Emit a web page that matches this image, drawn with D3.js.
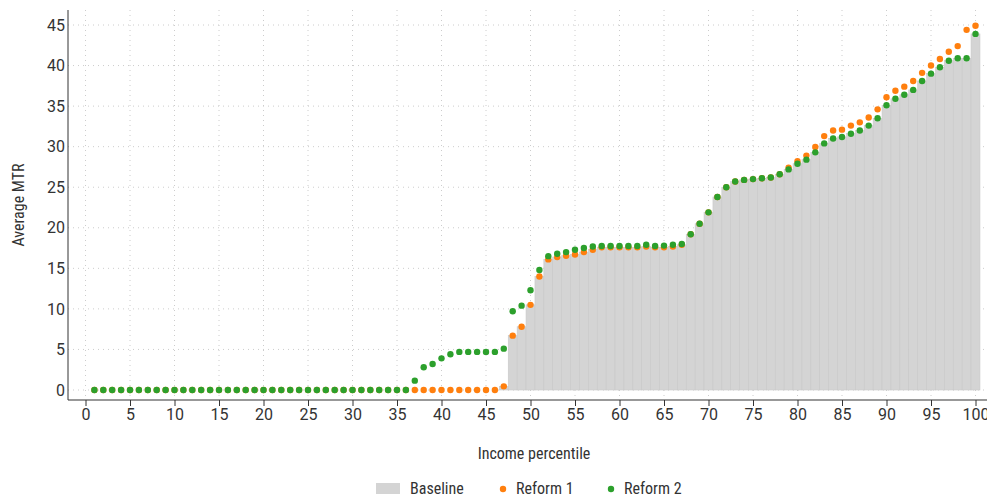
<!DOCTYPE html>
<html><head><meta charset="utf-8">
<script src="https://cdn.jsdelivr.net/npm/d3@7"></script>
<style>
body{margin:0;background:#fff}
text{font-family:"Liberation Sans Narrow","Roboto Condensed",Roboto,sans-serif;font-size:16px;fill:#333}
.grid line{stroke:#ccc;stroke-dasharray:1,4}
</style></head><body>
<svg id="chart" width="987" height="498"></svg>
<script>
// percentiles 1..100
var percentiles = d3.range(1, 101);

var reform1Tail = [0,0,0,0,0,0,0,0,0,0,0.45, // 37-47
  6.7,7.8,10.5,14.0,16.1,16.4,16.55,16.7,17.0,17.3, // 48-57
  17.6,17.6,17.6,17.6,17.6,17.7,17.6,17.6,17.7,17.9, // 58-67
  19.2,20.5,21.9,23.8,25.0,25.7,25.9,26.0,26.1,26.2,26.6, // 68-78
  27.4,28.2,28.9,29.95,31.3,32.0,32.1,32.6,33.0,33.6,34.6, // 79-89
  36.1,36.9,37.4,38.1,39.1,40.0,40.8,41.7,42.4,44.4,44.9]; // 90-100
var reform2Tail = [1.15,2.8,3.2,3.9,4.4,4.7,4.7,4.7,4.7,4.7,5.1,
  9.7,10.4,12.3,14.8,16.5,16.8,17.0,17.3,17.5,17.7,
  17.75,17.75,17.75,17.75,17.75,17.9,17.75,17.8,17.9,18.0,
  19.2,20.5,21.9,23.8,25.0,25.7,25.9,26.0,26.1,26.2,26.6,
  27.2,27.9,28.4,29.3,30.4,31.0,31.2,31.6,32.0,32.6,33.5,
  35.1,35.9,36.4,37.0,38.1,39.0,39.8,40.6,40.9,40.9,43.9];
var baselineTail = [0,0,0,0,0,0,0,0,0,0,0.45,
  6.7,7.8,10.5,14.0,16.1,16.4,16.55,16.7,17.0,17.3,
  17.6,17.6,17.6,17.6,17.6,17.7,17.6,17.6,17.7,17.9,
  19.2,20.5,21.9,23.8,25.0,25.7,25.9,26.0,26.1,26.2,26.6,
  27.2,27.9,28.4,29.3,30.4,31.0,31.2,31.6,32.0,32.6,33.5,
  35.1,35.9,36.4,37.0,38.1,39.0,39.8,40.6,40.9,40.9,43.9];
var zeros = d3.range(36).map(function(){ return 0; });
var reform1 = zeros.concat(reform1Tail);
var reform2 = zeros.concat(reform2Tail);
var baseline = zeros.concat(baselineTail);

var xTicks = d3.range(0, 101, 5);
var yTicks = d3.range(0, 46, 5);

var svg = d3.select('#chart');
var x = d3.scaleLinear().domain([0, 100]).range([85.5, 975.5]);
var y = d3.scaleLinear().domain([0, 45]).range([390, 25]);
var bw = 8.9;

// grid
var grid = svg.append('g').attr('class', 'grid');
grid.selectAll('.gy').data(yTicks).enter().append('line')
  .attr('x1', 68).attr('x2', 987).attr('y1', function(d){ return y(d); }).attr('y2', function(d){ return y(d); });
grid.selectAll('.gx').data(xTicks).enter().append('line')
  .attr('y1', 10).attr('y2', 400).attr('x1', function(d){ return x(d); }).attr('x2', function(d){ return x(d); });

// baseline bars
svg.append('g').selectAll('rect').data(percentiles).enter().append('rect')
  .attr('x', function(d){ return x(d) - bw / 2; })
  .attr('width', bw)
  .attr('y', function(d, i){ return y(baseline[i]); })
  .attr('height', function(d, i){ return y(0) - y(baseline[i]); })
  .attr('fill', '#d4d4d4').attr('stroke', '#c8c8c8').attr('stroke-width', 0.6);

// axes
var xAxis = d3.axisBottom(x).tickValues(xTicks).tickSize(6).tickSizeOuter(0);
svg.append('g').attr('transform', 'translate(0,400)').call(xAxis)
  .call(function(g){ g.select('.domain').attr('d', 'M68,0H987').attr('stroke', '#333'); });
var yAxis = d3.axisLeft(y).tickValues(yTicks).tickSize(0);
svg.append('g').attr('transform', 'translate(68,0)').call(yAxis)
  .call(function(g){ g.select('.domain').attr('d', 'M0,10V400').attr('stroke', '#333'); });
svg.selectAll('.tick text').style('font-size', '16px').style('font-family', '"Liberation Sans Narrow",Roboto,sans-serif').attr('fill', '#333');
svg.selectAll('.tick line').attr('stroke', '#333');

// dots
function dots(data, color) {
  svg.append('g').selectAll('circle').data(percentiles).enter().append('circle')
    .attr('cx', function(d){ return x(d); })
    .attr('cy', function(d, i){ return y(data[i]); })
    .attr('r', 3.2).attr('fill', color);
}
dots(reform1, '#ff7f0e');
dots(reform2, '#2ca02c');

// labels
svg.append('text').attr('x', 534).attr('y', 459).attr('text-anchor', 'middle').text('Income percentile');
svg.append('text').attr('transform', 'translate(24,205) rotate(-90)').attr('text-anchor', 'middle').text('Average MTR');

// legend
var lg = svg.append('g');
lg.append('rect').attr('x', 376).attr('y', 483).attr('width', 24).attr('height', 11).attr('fill', '#d4d4d4');
lg.append('text').attr('x', 410).attr('y', 494).text('Baseline');
lg.append('circle').attr('cx', 503).attr('cy', 489).attr('r', 3.2).attr('fill', '#ff7f0e');
lg.append('text').attr('x', 516).attr('y', 494).text('Reform 1');
lg.append('circle').attr('cx', 611).attr('cy', 489).attr('r', 3.2).attr('fill', '#2ca02c');
lg.append('text').attr('x', 624).attr('y', 494).text('Reform 2');
</script>
</body></html>
